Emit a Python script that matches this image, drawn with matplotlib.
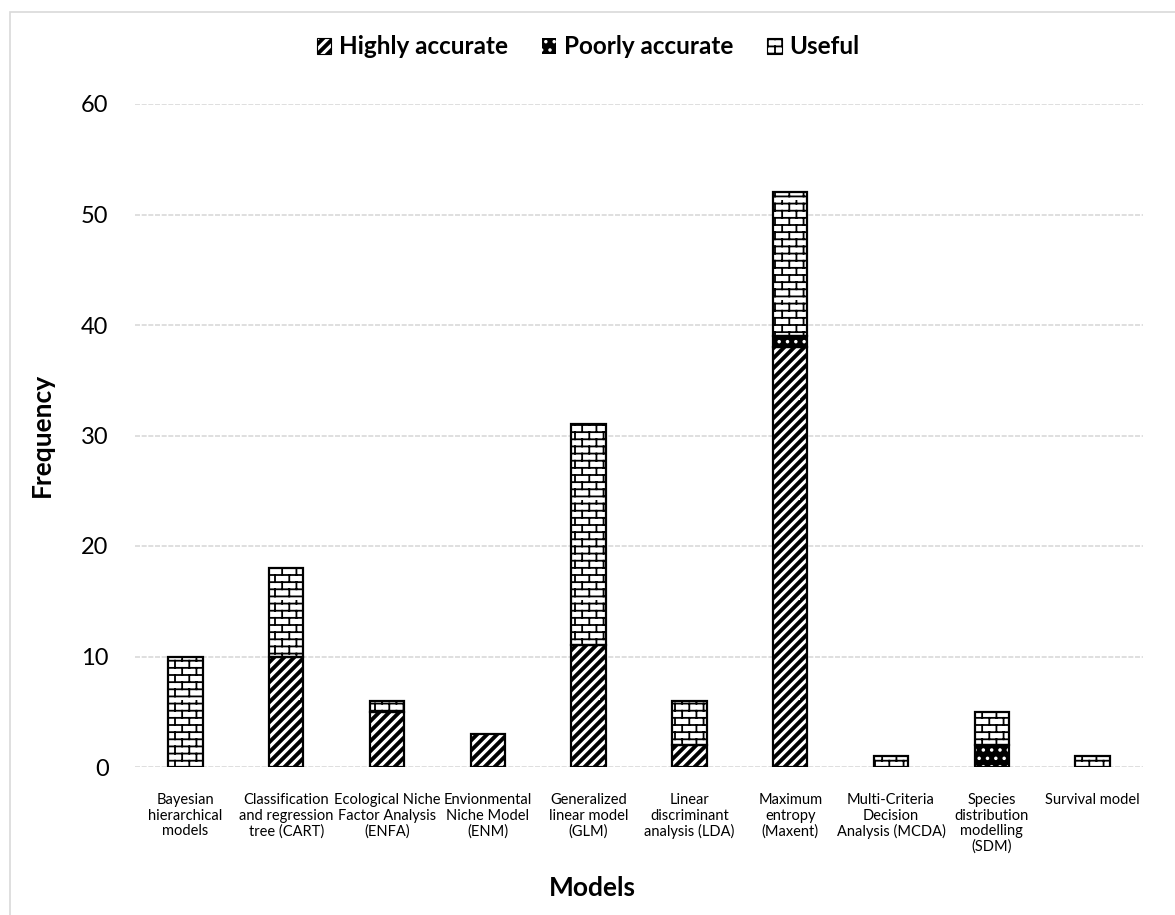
import warnings

import numpy as np
import matplotlib
matplotlib.use("Agg")
import matplotlib.pyplot as plt
import matplotlib.hatch as mhatch
from matplotlib.path import Path
from matplotlib.patches import Patch, Rectangle

warnings.filterwarnings("ignore")

models = [
    "Bayesian\nhierarchical\nmodels",
    "Classification\nand regression\ntree (CART)",
    "Ecological Niche\nFactor Analysis\n(ENFA)",
    "Envionmental\nNiche Model\n(ENM)",
    "Generalized\nlinear model\n(GLM)",
    "Linear\ndiscriminant\nanalysis (LDA)",
    "Maximum\nentropy\n(Maxent)",
    "Multi-Criteria\nDecision\nAnalysis (MCDA)",
    "Species\ndistribution\nmodelling\n(SDM)",
    "Survival model",
]
highly_accurate = [0, 10, 5, 3, 11, 2, 38, 0, 0, 0]
poorly_accurate = [0, 0, 0, 0, 0, 0, 1, 0, 2, 0]
useful = [10, 8, 1, 0, 20, 4, 13, 1, 3, 1]

FONT = "Lato"
GRID_COLOR = "#d9d9d9"
BAR_WIDTH = 0.34


class StripeHatch(mhatch.HatchPatternBase):
    """Thick '/' stripes, drawn as filled parallelograms (char 's')."""
    count = 10
    width = 0.03

    def __init__(self, hatch, density):
        self.num_vertices = 5 * 2 * self.count if "s" in hatch else 0

    def set_vertices_and_codes(self, vertices, codes):
        w = self.width
        pts = []
        for a in np.arange(-self.count, self.count) / self.count:
            pts += [(a, 0), (a + w, 0), (a + w + 1, 1), (a + 1, 1), (a, 0)]
        vertices[:] = np.array(pts)
        codes[:] = np.tile([Path.MOVETO, Path.LINETO, Path.LINETO,
                            Path.LINETO, Path.CLOSEPOLY], 2 * self.count)


class BrickHatch(mhatch.HatchPatternBase):
    """Brick wall pattern (char 'b')."""
    rows = 14
    bricks = 7

    def __init__(self, hatch, density):
        self.num_vertices = self.rows * (1 + self.bricks) * 2 if "b" in hatch else 0

    def set_vertices_and_codes(self, vertices, codes):
        n, m = self.rows, self.bricks
        segs = []
        for i in range(n):
            y = (i + 0.5) / n
            segs += [(0, y), (1, y)]
            off = 0.25 / m + (i % 2) * 0.5 / m
            for j in range(m):
                x = j / m + off
                segs += [(x, y), (x, y + 1 / n)]
        vertices[:] = np.array(segs)
        codes[0::2] = Path.MOVETO
        codes[1::2] = Path.LINETO


mhatch._hatch_types.append(StripeHatch)
mhatch._hatch_types.append(BrickHatch)
plt.rcParams["hatch.linewidth"] = 1.3
plt.rcParams["font.family"] = [FONT, "DejaVu Sans"]

fig = plt.figure(figsize=(11.75, 9.15), dpi=100)
ax = fig.add_axes([135 / 1175, 148 / 915, 1008 / 1175, 663 / 915])

x = np.arange(len(models))
ha = np.array(highly_accurate)
pa = np.array(poorly_accurate)
us = np.array(useful)

layers = [
    (ha, 0, dict(color="white", edgecolor="black", hatch="s")),
    (pa, ha, dict(color="black", edgecolor="white", hatch="..")),
    (us, ha + pa, dict(color="white", edgecolor="black", hatch="b")),
]
for vals, base, style in layers:
    ax.bar(x, vals, BAR_WIDTH, bottom=base, linewidth=0, zorder=3,
           facecolor=style["color"], edgecolor=style["edgecolor"], hatch=style["hatch"])
    mask = vals > 0
    ax.bar(x[mask], vals[mask], BAR_WIDTH, bottom=(np.zeros_like(vals) + base)[mask],
           fill=False, edgecolor="black", linewidth=1.6, zorder=4)

ax.set_xlim(-0.5, len(models) - 0.5)
ax.set_ylim(0, 60)
ax.set_yticks(range(0, 61, 10))
ax.yaxis.grid(True, color=GRID_COLOR, linewidth=1.2, linestyle=(0, (3, 1)), zorder=0)
for s in ax.spines.values():
    s.set_visible(False)
ax.tick_params(axis="both", length=0)
ax.tick_params(axis="y", labelsize=17, pad=19)
ax.set_xticks(x)
ax.set_xticklabels(models, fontsize=10.5, linespacing=1.12)
ax.tick_params(axis="x", pad=19)

fig.text(592 / 1175, 1 - 888 / 915, "Models", ha="center", va="center",
         fontsize=19, fontweight="bold")
fig.text(42 / 1175, 1 - 435 / 915, "Frequency", ha="center", va="center",
         fontsize=19, fontweight="bold", rotation=90)

handles = [
    Patch(facecolor="white", edgecolor="black", hatch="s", linewidth=0.8),
    Patch(facecolor="black", edgecolor="white", hatch="..", linewidth=0),
    Patch(facecolor="white", edgecolor="black", hatch="b", linewidth=0.8),
]
fig.legend(handles, ["Highly accurate", "Poorly accurate", "Useful"],
           loc="center", bbox_to_anchor=(588 / 1175, 1 - 47 / 915), ncol=3,
           frameon=False, handlelength=0.6, handleheight=0.6, handletextpad=0.3,
           columnspacing=1.4, prop=dict(size=17.5, weight="bold"))

fig.patches.append(Rectangle((10 / 1175, -0.05), 1.2, 1 - 12 / 915 + 0.05,
                             transform=fig.transFigure, fill=False,
                             edgecolor=GRID_COLOR, linewidth=1.2))

fig.savefig("out.png", dpi=100)
